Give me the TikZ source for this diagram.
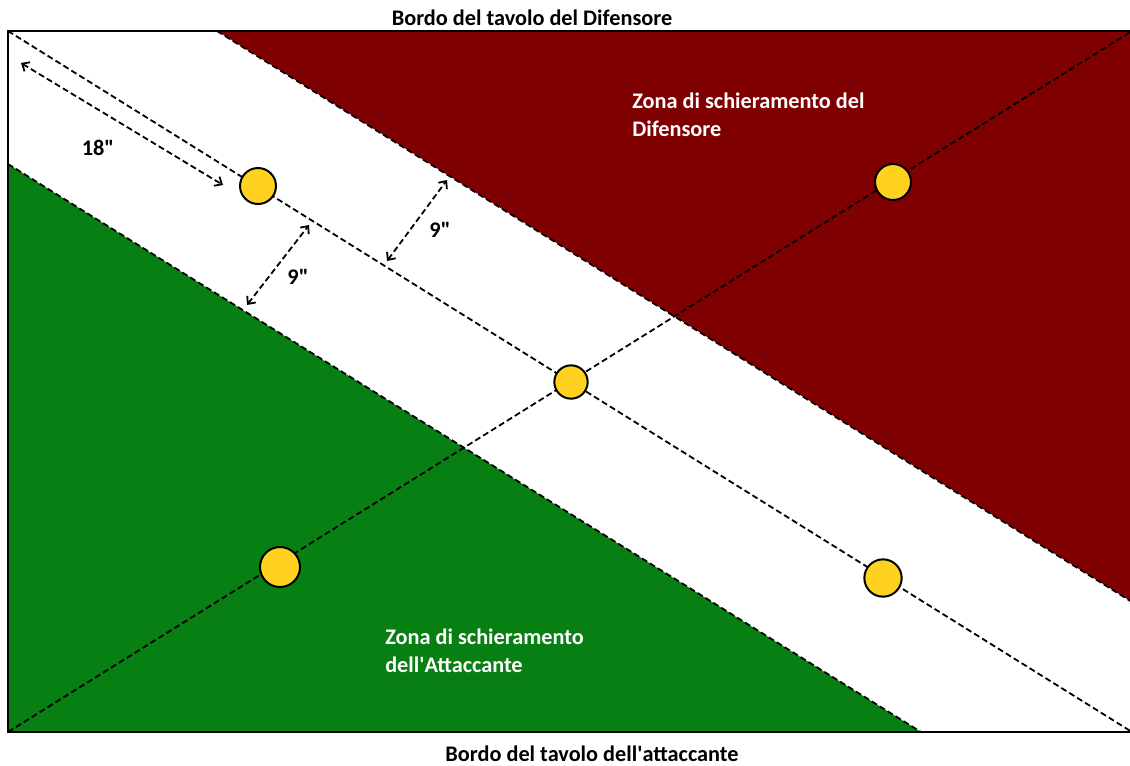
\documentclass[tikz,border=0pt]{standalone}
\usepackage{fontspec}
\setmainfont{Carlito}
\definecolor{zoneRed}{HTML}{7F0000}
\definecolor{zoneGreen}{HTML}{077F12}
\definecolor{objYellow}{HTML}{FFD21F}
\usetikzlibrary{arrows.meta}

\begin{document}
\begin{tikzpicture}[x=0.75pt, y=-0.75pt,
    every node/.style={font=\fontsize{16.7}{21}\selectfont\bfseries},
    guideline/.style={black, line width=1.35pt, dash pattern=on 4.5pt off 2.5pt},
    measure/.style={guideline, {Straight Barb[length=4.5pt,width=8pt]}-{Straight Barb[length=4.5pt,width=8pt]}},
    objective/.style={circle, draw=black, line width=1.5pt, fill=objYellow, inner sep=0pt, minimum size=#1}]
  \useasboundingbox (0,0) rectangle (1130,765);
  % Table corners
  \coordinate (tl) at (8,31);
  \coordinate (tr) at (1132,31);
  \coordinate (br) at (1132,732);
  \coordinate (bl) at (8,732);
  % Deployment zones
  \coordinate (redA) at (217,31);
  \coordinate (redB) at (1132,602);
  \coordinate (greenA) at (8,164);
  \coordinate (greenB) at (921,732);
  \fill[zoneRed] (redA) -- (tr) -- (redB) -- cycle;
  \fill[zoneGreen] (greenA) -- (bl) -- (greenB) -- cycle;
  \draw[guideline] (redA) -- (redB);
  \draw[guideline] (greenA) -- (greenB);
  % Diagonals
  \draw[guideline] (tl) -- (br);
  \draw[guideline] (bl) -- (tr);
  % Table edge
  \draw[line width=1.5pt] (tl) rectangle (br);
  % Measures
  \coordinate (m18a) at (21,63);
  \coordinate (m18b) at (223,185);
  \coordinate (m9a) at (247,305);
  \coordinate (m9b) at (309,225);
  \coordinate (m9c) at (387,261);
  \coordinate (m9d) at (447,180);
  \draw[measure] (m18a) -- (m18b);
  \draw[measure] (m9a) -- (m9b);
  \draw[measure] (m9c) -- (m9d);
  \node (lbl18) at (98,148) {18\textquotedbl};
  \node (lbl9a) at (298,277) {9\textquotedbl};
  \node (lbl9b) at (440,230) {9\textquotedbl};
  % Objectives
  \node[objective=27pt] (objA) at (258,186) {};
  \node[objective=25pt] (objB) at (571,382) {};
  \node[objective=27pt] (objC) at (893,182) {};
  \node[objective=30pt] (objD) at (280,567) {};
  \node[objective=28pt] (objE) at (883,578) {};
  % Zone names
  \node[anchor=north west, inner sep=0pt, align=left, text=white] (defZone) at (632,93)
    {Zona di schieramento del\\Difensore};
  \node[anchor=north west, inner sep=0pt, align=left, text=white] (attZone) at (385,629)
    {Zona di schieramento\\dell\textquotesingle Attaccante};
  % Table edges
  \node[anchor=base] (defEdge) at (532,25) {Bordo del tavolo del Difensore};
  \node[anchor=base] (attEdge) at (592,761) {Bordo del tavolo dell\textquotesingle attaccante};
\end{tikzpicture}
\end{document}
